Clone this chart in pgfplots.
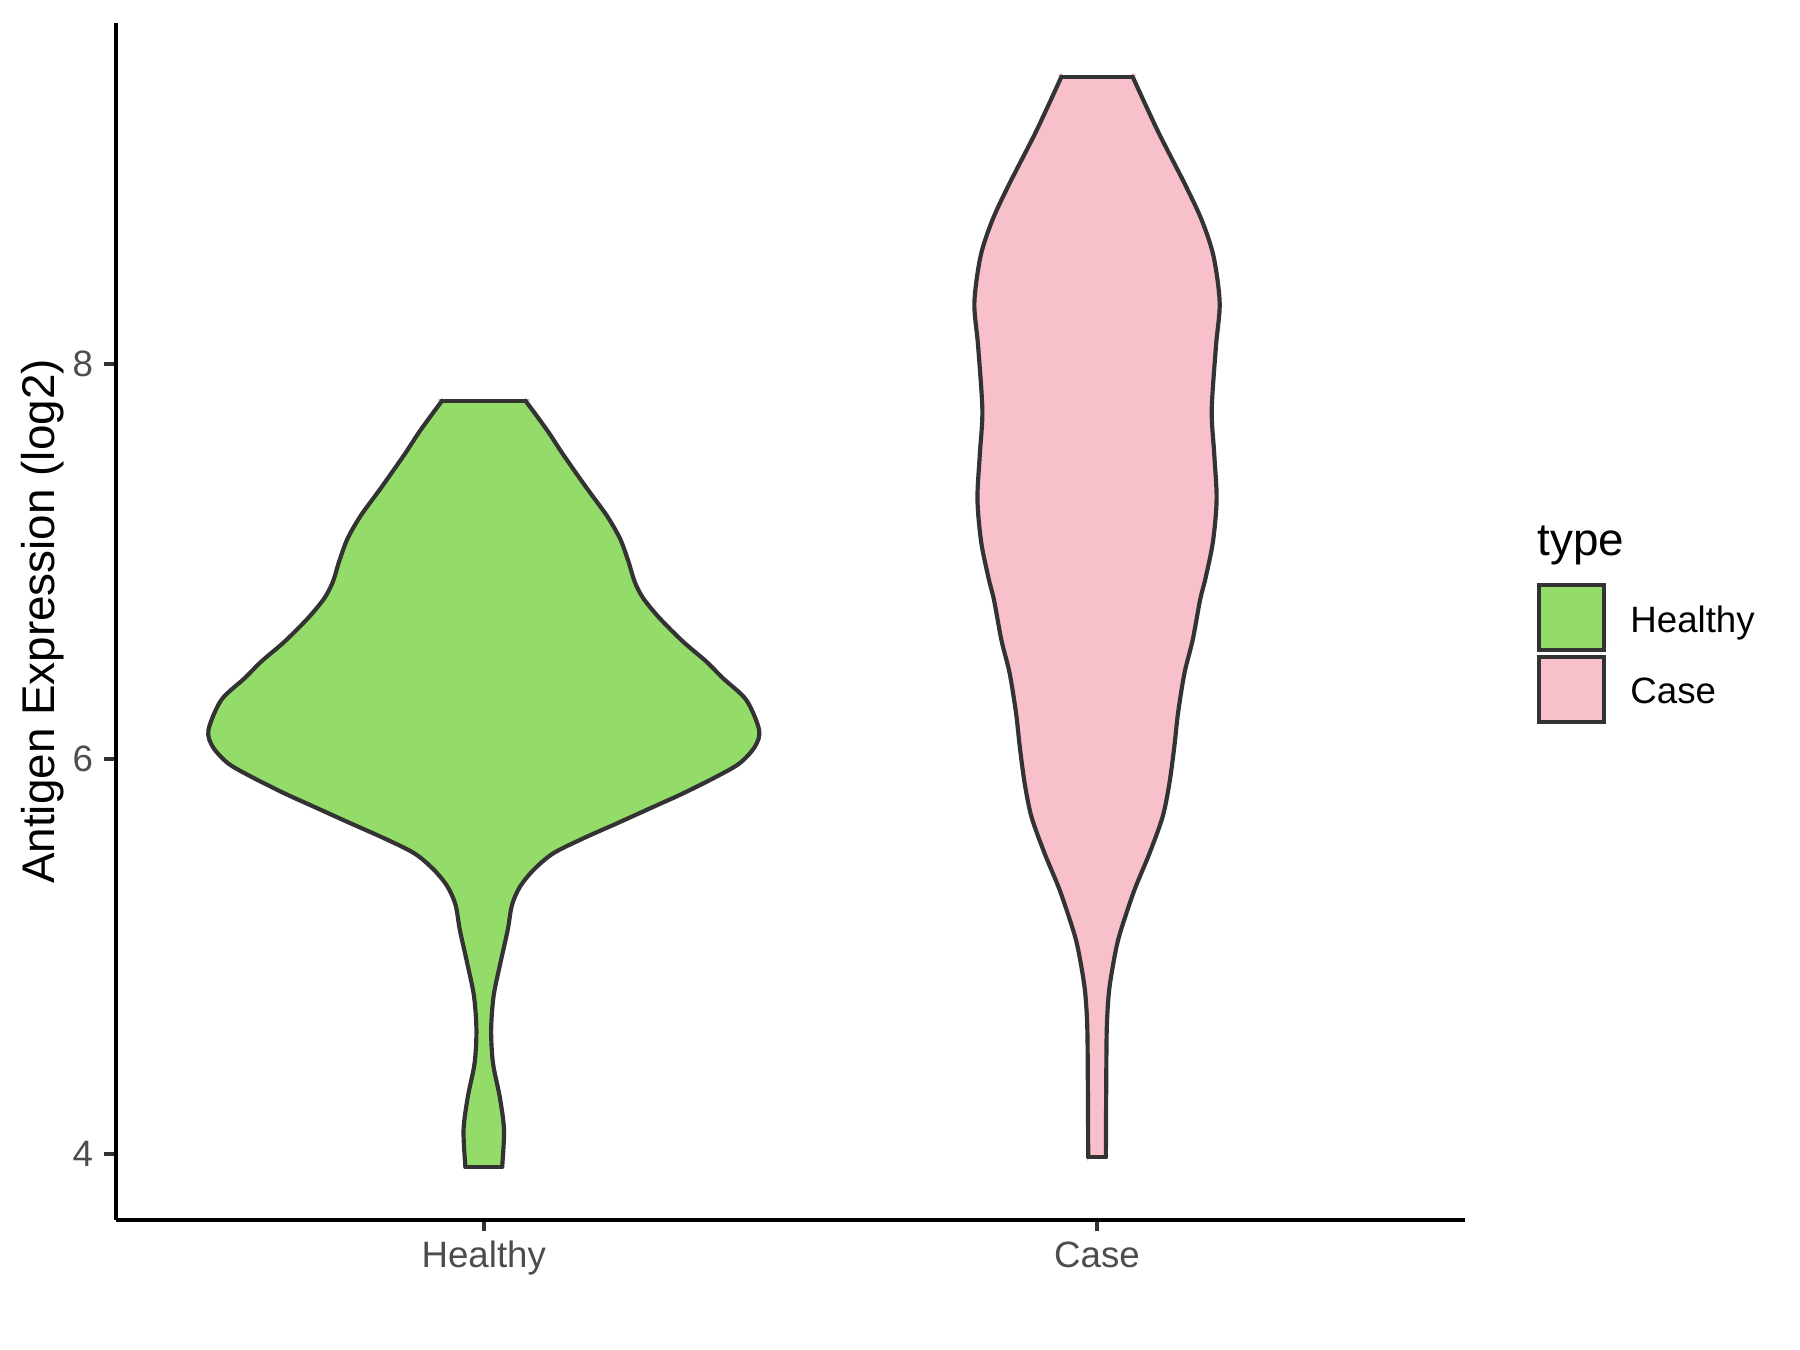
\documentclass[border=0pt]{standalone}
\usepackage{fontspec}
\setmainfont{Liberation Sans}
\usepackage{pgfplots}
\usepackage{pgfplotstable}
\pgfplotsset{compat=1.18}
\definecolor{hgreen}{HTML}{93DC6A}
\definecolor{cpink}{HTML}{F7C0CB}
\definecolor{vline}{HTML}{333333}
\definecolor{ticklab}{HTML}{4D4D4D}
\pgfplotsset{vkey/.style={legend image code/.code={\draw[##1] (0pt,-7.8pt) rectangle (15.6pt,7.8pt);}}}

% violin half widths (category units) at each value y
\pgfplotstableread{
y hw
3.936 0.030
4.122 0.033
4.290 0.026
4.460 0.015
4.628 0.012
4.800 0.016
4.966 0.027
5.134 0.039
5.261 0.046
5.353 0.059
5.438 0.081
5.522 0.113
5.598 0.162
5.674 0.217
5.750 0.271
5.826 0.325
5.910 0.379
5.978 0.417
6.062 0.442
6.147 0.449
6.299 0.428
6.409 0.390
6.493 0.363
6.594 0.325
6.712 0.287
6.814 0.260
6.898 0.246
6.999 0.236
7.117 0.222
7.235 0.200
7.371 0.168
7.539 0.130
7.666 0.103
7.814 0.068
}\healthy

\pgfplotstableread{
y hw
3.985 0.0144
4.367 0.015
4.649 0.016
4.836 0.020
5.023 0.030
5.134 0.039
5.337 0.061
5.522 0.0855
5.708 0.107
5.877 0.118
6.062 0.126
6.231 0.132
6.434 0.1425
6.603 0.156
6.805 0.168
6.917 0.177
7.100 0.189
7.315 0.195
7.550 0.191
7.767 0.187
8.093 0.194
8.310 0.200
8.545 0.190
8.726 0.171
8.906 0.144
9.180 0.099
9.455 0.058
}\casedata

% the same outlines traced round (for the fill): side s (+1 right, -1 left)
\pgfplotstableread{
s hw y
1 0.030 3.936
1 0.030 3.936
1 0.033 4.122
1 0.026 4.290
1 0.015 4.460
1 0.012 4.628
1 0.016 4.800
1 0.027 4.966
1 0.039 5.134
1 0.046 5.261
1 0.059 5.353
1 0.081 5.438
1 0.113 5.522
1 0.162 5.598
1 0.217 5.674
1 0.271 5.750
1 0.325 5.826
1 0.379 5.910
1 0.417 5.978
1 0.442 6.062
1 0.449 6.147
1 0.428 6.299
1 0.390 6.409
1 0.363 6.493
1 0.325 6.594
1 0.287 6.712
1 0.260 6.814
1 0.246 6.898
1 0.236 6.999
1 0.222 7.117
1 0.200 7.235
1 0.168 7.371
1 0.130 7.539
1 0.103 7.666
1 0.068 7.814
1 0.068 7.814
-1 0.068 7.814
-1 0.068 7.814
-1 0.103 7.666
-1 0.130 7.539
-1 0.168 7.371
-1 0.200 7.235
-1 0.222 7.117
-1 0.236 6.999
-1 0.246 6.898
-1 0.260 6.814
-1 0.287 6.712
-1 0.325 6.594
-1 0.363 6.493
-1 0.390 6.409
-1 0.428 6.299
-1 0.449 6.147
-1 0.442 6.062
-1 0.417 5.978
-1 0.379 5.910
-1 0.325 5.826
-1 0.271 5.750
-1 0.217 5.674
-1 0.162 5.598
-1 0.113 5.522
-1 0.081 5.438
-1 0.059 5.353
-1 0.046 5.261
-1 0.039 5.134
-1 0.027 4.966
-1 0.016 4.800
-1 0.012 4.628
-1 0.015 4.460
-1 0.026 4.290
-1 0.033 4.122
-1 0.030 3.936
-1 0.030 3.936
1 0.030 3.936
}\healthyloop

\pgfplotstableread{
s hw y
1 0.0144 3.985
1 0.0144 3.985
1 0.015 4.367
1 0.016 4.649
1 0.020 4.836
1 0.030 5.023
1 0.039 5.134
1 0.061 5.337
1 0.0855 5.522
1 0.107 5.708
1 0.118 5.877
1 0.126 6.062
1 0.132 6.231
1 0.1425 6.434
1 0.156 6.603
1 0.168 6.805
1 0.177 6.917
1 0.189 7.100
1 0.195 7.315
1 0.191 7.550
1 0.187 7.767
1 0.194 8.093
1 0.200 8.310
1 0.190 8.545
1 0.171 8.726
1 0.144 8.906
1 0.099 9.180
1 0.058 9.455
1 0.058 9.455
-1 0.058 9.455
-1 0.058 9.455
-1 0.099 9.180
-1 0.144 8.906
-1 0.171 8.726
-1 0.190 8.545
-1 0.200 8.310
-1 0.194 8.093
-1 0.187 7.767
-1 0.191 7.550
-1 0.195 7.315
-1 0.189 7.100
-1 0.177 6.917
-1 0.168 6.805
-1 0.156 6.603
-1 0.1425 6.434
-1 0.132 6.231
-1 0.126 6.062
-1 0.118 5.877
-1 0.107 5.708
-1 0.0855 5.522
-1 0.061 5.337
-1 0.039 5.134
-1 0.030 5.023
-1 0.020 4.836
-1 0.016 4.649
-1 0.015 4.367
-1 0.0144 3.985
-1 0.0144 3.985
1 0.0144 3.985
}\caseloop

\begin{document}
\begin{tikzpicture}
\path[use as bounding box] (-27.8pt,-31.2pt) rectangle (404.2pt,292.8pt);
\begin{axis}[
  at={(0pt,0pt)}, anchor=south west,
  width=323.8pt, height=287.3pt, scale only axis,
  xmin=0.4, xmax=2.6, ymin=3.666, ymax=9.727,
  axis lines=left,
  axis line style={-, black, line width=1.07pt},
  xtick={1,2}, xticklabels={Healthy,Case},
  ytick={4,6,8},
  tick align=outside, major tick length=2.75pt,
  tick style={vline, line width=1.07pt},
  ticklabel style={font=\fontsize{8.8}{10}\selectfont, text=ticklab},
  /pgf/number format/assume math mode=true,
  xticklabel style={anchor=base, inner sep=0pt, yshift=-8.65pt},
  yticklabel style={anchor=east, inner sep=0pt, xshift=-2.55pt},
  ylabel={Antigen Expression (log2)},
  ylabel style={at={(axis description cs:-0.0452,0.5)}, anchor=base, inner sep=0pt, font=\fontsize{11}{13}\selectfont},
  clip=false,
  legend style={at={(axis description cs:1.0531,0.5322)}, anchor=north west, draw=none, fill=none, inner sep=0pt, outer sep=0pt, row sep=0.6pt, column sep=5.9pt, font=\fontsize{8.8}{10}\selectfont, nodes={inner sep=0pt, yshift=-1.1pt}},
  legend cell align=left,
  vside/.style={smooth, draw=vline, line width=1pt, line cap=round, forget plot},
  vedge/.style={sharp plot, draw=vline, line width=1pt, line cap=round, forget plot},
]
% Healthy
\addplot[smooth, fill=hgreen, draw=none, forget plot] table[x expr=1+\thisrow{s}*\thisrow{hw}, y=y] {\healthyloop};
\addplot[vside] table[x expr=1+\thisrow{hw}, y=y] {\healthy};
\addplot[vside] table[x expr=1-\thisrow{hw}, y=y] {\healthy};
\addplot[vedge] coordinates {(0.932,7.814) (1.068,7.814)};
\addplot[vedge] coordinates {(0.970,3.936) (1.030,3.936)};
% Case
\addplot[smooth, fill=cpink, draw=none, forget plot] table[x expr=2+\thisrow{s}*\thisrow{hw}, y=y] {\caseloop};
\addplot[vside] table[x expr=2+\thisrow{hw}, y=y] {\casedata};
\addplot[vside] table[x expr=2-\thisrow{hw}, y=y] {\casedata};
\addplot[vedge] coordinates {(1.942,9.455) (2.058,9.455)};
\addplot[vedge] coordinates {(1.9856,3.985) (2.0144,3.985)};
\addlegendimage{vkey, draw=vline, fill=hgreen, line width=1pt}
\addlegendentry{Healthy}
\addlegendimage{vkey, draw=vline, fill=cpink, line width=1pt}
\addlegendentry{Case}
\node[anchor=base west, inner sep=0pt, font=\fontsize{11}{13}\selectfont] at (axis description cs:1.0531,0.5555) {type};
\end{axis}
\end{tikzpicture}
\end{document}
